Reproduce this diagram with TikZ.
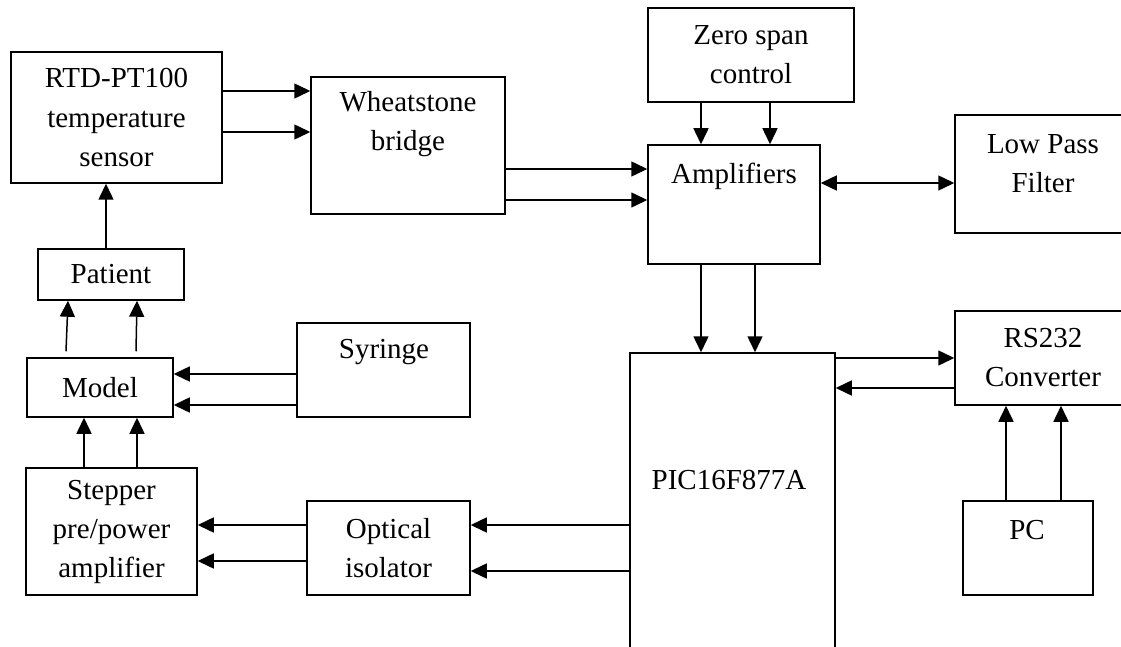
\documentclass[tikz,border=0pt]{standalone}
\usepackage{fontspec}
\setmainfont{Liberation Serif}
\usetikzlibrary{arrows.meta,calc}

\begin{document}
\begin{tikzpicture}[x=1pt,y=-1pt,>={Triangle[length=16pt,width=15pt]},
  blk/.style={draw,line width=1.5pt,inner sep=0pt,align=center,font=\fontsize{29}{39}\selectfont},
  txt/.style={inner sep=0pt,align=center,font=\fontsize{29}{39}\selectfont},
  arr/.style={line width=1.5pt,->}]
  \useasboundingbox (0,0) rectangle (1121,647);
  \clip (0,0) rectangle (1121,647);
  % blocks
  \node[blk,minimum width=211pt,minimum height=131pt] (rtd) at (116.5,117.5) {RTD-PT100\\temperature\\sensor};
  \node[blk,minimum width=194pt,minimum height=137pt] (wb) at (408,145.5) {};
  \node[txt] (wb-t) at (408,124.5) {Wheatstone\\bridge};
  \node[blk,minimum width=206pt,minimum height=94pt] (zsc) at (751,55) {Zero span\\control};
  \node[blk,minimum width=172pt,minimum height=119pt] (amp) at (734,204.5) {};
  \node[txt] (amp-t) at (734,176) {Amplifiers};
  \node[blk,minimum width=176pt,minimum height=118pt] (lpf) at (1043,174) {};
  \node[txt] (lpf-t) at (1043,163.5) {Low Pass\\Filter};
  \node[blk,minimum width=146pt,minimum height=51pt] (pat) at (111,274.5) {Patient};
  \node[blk,minimum width=146pt,minimum height=59pt] (mdl) at (100,387.5) {Model};
  \node[blk,minimum width=173pt,minimum height=94pt] (syr) at (383.5,370) {};
  \node[txt] (syr-t) at (384,352) {Syringe};
  \node[blk,minimum width=171pt,minimum height=127pt] (stp) at (111.5,531.5) {Stepper\\pre/power\\amplifier};
  \node[blk,minimum width=163pt,minimum height=94pt] (opt) at (388.5,548) {Optical\\isolator};
  \node[blk,minimum width=205pt,minimum height=367pt] (pic) at (732.5,536.5) {};
  \node[txt] (pic-t) at (729,480) {PIC16F877A};
  \node[blk,minimum width=176pt,minimum height=94pt] (rs) at (1043,358) {RS232\\Converter};
  \node[blk,minimum width=130pt,minimum height=94pt] (pc) at (1028,548) {};
  \node[txt] (pc-t) at (1027,530) {PC};
  % signal paths
  \foreach \y in {91,132} \draw[arr] (rtd.east |- 0,\y) -- (wb.west |- 0,\y);
  \foreach \y in {169,200} \draw[arr] (wb.east |- 0,\y) -- (amp.west |- 0,\y);
  \foreach \x in {701,770} \draw[arr] (zsc.south -| \x,0) -- (amp.north -| \x,0);
  \draw[line width=1.5pt,<->] (amp.east |- 0,183) -- (lpf.west |- 0,183);
  \foreach \x in {701,755} \draw[arr] (amp.south -| \x,0) -- (pic.north -| \x,0);
  \draw[arr] (pic.east |- 0,358) -- (rs.west |- 0,358);
  \draw[arr] (rs.west |- 0,388) -- (pic.east |- 0,388);
  \foreach \x in {1006,1061} \draw[arr] (pc.north -| \x,0) -- (rs.south -| \x,0);
  \foreach \y in {525,571} \draw[arr] (pic.west |- 0,\y) -- (opt.east |- 0,\y);
  \foreach \y in {525,561} \draw[arr] (opt.west |- 0,\y) -- (stp.east |- 0,\y);
  \foreach \y in {374,405} \draw[arr] (syr.west |- 0,\y) -- (mdl.east |- 0,\y);
  \foreach \x in {84,137} \draw[arr] (stp.north -| \x,0) -- (mdl.south -| \x,0);
  \draw[arr] ($(mdl.north -| 66,0)+(0,-6)$) -- (pat.south -| 68,0);
  \draw[arr] ($(mdl.north -| 136,0)+(0,-6)$) -- (pat.south -| 137,0);
  \draw[arr] (pat.north -| 106,0) -- (rtd.south -| 106,0);
\end{tikzpicture}
\end{document}
